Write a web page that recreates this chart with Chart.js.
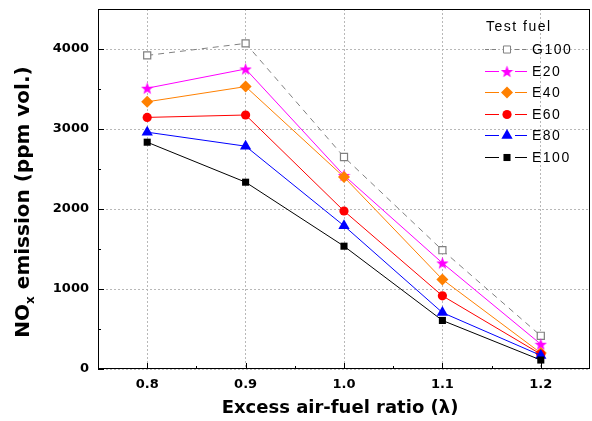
<!DOCTYPE html>
<html>
<head>
<meta charset="utf-8">
<script src="https://cdn.jsdelivr.net/npm/chart.js@4"></script>
<style>
  html, body { margin: 0; padding: 0; background: #fff; }
  #wrap { width: 592px; height: 421px; }
</style>
</head>
<body>
<div id="wrap"><canvas id="noxChart"></canvas></div>
<script>
// excess air-fuel ratio on x, NOx (ppm vol.) on y
const lambda = [0.8, 0.9, 1.0, 1.1, 1.2];
const fuels = ['G100', 'E20', 'E40', 'E60', 'E80', 'E100'];
const g100 = [3920, 4070, 2650, 1485, 415];
const e20 = [3510, 3750, 2420, 1325, 310];
const e40 = [3340, 3530, 2400, 1120, 200];
const e60 = [3145, 3175, 1975, 915, 185];
const e80 = [2960, 2785, 1790, 705, 170];
const e100 = [2835, 2335, 1535, 607, 112];
const yTicks = [0, 1000, 2000, 3000, 4000];
const xTicks = [0.8, 0.9, 1.0, 1.1, 1.2];

function makeStar(color, size) {
  const c = document.createElement('canvas');
  c.width = c.height = size;
  const g = c.getContext('2d');
  const r = size / 2, ri = r * 0.42;
  g.beginPath();
  for (let i = 0; i < 10; i++) {
    const a = -Math.PI / 2 + i * Math.PI / 5;
    const rr = i % 2 ? ri : r;
    g.lineTo(r + rr * Math.cos(a), r + 0.6 + rr * Math.sin(a));
  }
  g.closePath();
  g.fillStyle = color;
  g.fill();
  return c;
}

const series = [g100, e20, e40, e60, e80, e100];
const colors = ['#808080', '#ff00ff', '#ff8000', '#ff0000', '#0000ff', '#000000'];
const styles = ['rect', makeStar('#ff00ff', 13), 'rectRot', 'circle', 'triangle', 'rect'];
const radii = [5, 6.5, 6, 4.6, 6.5, 5];

const datasets = fuels.map((name, i) => ({
  label: name,
  data: lambda.map((l, j) => ({ x: l, y: series[i][j] })),
  borderColor: colors[i],
  borderWidth: 1,
  borderDash: i === 0 ? [6, 5] : [],
  pointStyle: styles[i],
  pointRadius: radii[i],
  pointHoverRadius: radii[i],
  pointBackgroundColor: i === 0 ? '#ffffff' : colors[i],
  pointBorderColor: colors[i],
  pointBorderWidth: i === 0 ? 1.2 : 0,
  tension: 0,
  order: fuels.length - i
}));

const tickFont = { family: 'DejaVu Sans', weight: 'bold', size: 13 };

function noPad(s) {
  s.paddingLeft = s.paddingRight = s.paddingTop = s.paddingBottom = 0;
}

const decor = {
  id: 'decor',
  afterDraw(chart) {
    const { ctx, chartArea: a, scales: { x, y } } = chart;
    ctx.save();
    ctx.strokeStyle = '#000';
    ctx.lineWidth = 1;
    ctx.strokeRect(a.left + 0.5, a.top + 0.5, a.right - a.left - 1, a.bottom - a.top - 1);

    // inward ticks, major and minor
    ctx.beginPath();
    yTicks.forEach(v => {
      const p = Math.round(y.getPixelForValue(v)) + 0.5;
      ctx.moveTo(a.left, p); ctx.lineTo(a.left + 6, p);
      const pm = Math.round(y.getPixelForValue(v + 500)) + 0.5;
      ctx.moveTo(a.left, pm); ctx.lineTo(a.left + 3, pm);
    });
    xTicks.forEach(v => {
      const p = Math.round(x.getPixelForValue(v)) + 0.5;
      ctx.moveTo(p, a.bottom); ctx.lineTo(p, a.bottom - 6);
      if (v < 1.2) {
        const pm = Math.round(x.getPixelForValue(v + 0.05)) + 0.5;
        ctx.moveTo(pm, a.bottom); ctx.lineTo(pm, a.bottom - 3);
      }
    });
    ctx.stroke();

    // axis titles
    ctx.fillStyle = '#000';
    ctx.font = 'bold 18px "DejaVu Sans"';
    ctx.textAlign = 'center';
    ctx.textBaseline = 'middle';
    ctx.fillText('Excess air-fuel ratio (λ)', (a.left + a.right) / 2 - 4, 408);

    ctx.translate(24, 202);
    ctx.rotate(-Math.PI / 2);
    const big = 'bold 20px "DejaVu Sans"', small = 'bold 12px "DejaVu Sans"';
    ctx.font = big;
    const w1 = ctx.measureText('NO').width;
    const w3 = ctx.measureText(' emission (ppm vol.)').width;
    ctx.font = small;
    const w2 = ctx.measureText('x').width;
    let sx = -(w1 + w2 + w3) / 2;
    ctx.textAlign = 'left';
    ctx.font = big;
    ctx.fillText('NO', sx, 0);
    ctx.font = small;
    ctx.fillText('x', sx + w1, 7);
    ctx.font = big;
    ctx.fillText(' emission (ppm vol.)', sx + w1 + w2, 0);
    ctx.restore();

    // legend
    ctx.save();
    const lx = a.right - 105, mx = a.right - 83, tx = a.right - 58;
    ctx.font = '14px "Liberation Sans"';
    ctx.letterSpacing = '1.5px';
    ctx.fillStyle = '#000';
    ctx.textBaseline = 'middle';
    ctx.fillText('Test fuel', lx + 1, 27);
    datasets.forEach((ds, i) => {
      const ly = Math.round(49 + i * 21.5) + 0.5;
      ctx.strokeStyle = ds.borderColor;
      ctx.lineWidth = 1;
      ctx.setLineDash(i === 0 ? [4, 3] : []);
      ctx.beginPath();
      ctx.moveTo(lx, ly); ctx.lineTo(mx - 8, ly);
      ctx.moveTo(mx + 8, ly); ctx.lineTo(mx + 20, ly);
      ctx.stroke();
      ctx.setLineDash([]);
      ctx.fillStyle = ds.pointBackgroundColor;
      ctx.strokeStyle = ds.pointBorderColor;
      Chart.helpers.drawPoint(ctx, {
        pointStyle: ds.pointStyle, radius: ds.pointRadius, rotation: 0, borderWidth: ds.pointBorderWidth
      }, mx, ly);
      ctx.fillStyle = '#000';
      ctx.fillText(ds.label, tx, ly + 1);
    });
    ctx.restore();
  }
};

new Chart(document.getElementById('noxChart'), {
  type: 'line',
  data: { datasets },
  options: {
    responsive: true,
    maintainAspectRatio: false,
    animation: false,
    layout: { autoPadding: false, padding: { top: 9, right: 2, left: 0, bottom: 0 } },
    plugins: { legend: { display: false }, tooltip: { enabled: false } },
    scales: {
      x: {
        type: 'linear',
        min: 0.75,
        max: 1.25,
        afterBuildTicks: s => { s.ticks = xTicks.map(v => ({ value: v })); },
        afterFit: s => { s.height = 52; noPad(s); },
        grid: { color: '#b8b8b8', drawTicks: false },
        border: { display: false, dash: [2, 2] },
        ticks: { font: tickFont, color: '#000', padding: 8, maxRotation: 0, callback: v => v.toFixed(1) }
      },
      y: {
        min: 0,
        max: 4500,
        afterBuildTicks: s => { s.ticks = yTicks.map(v => ({ value: v })); },
        afterFit: s => { s.width = 98; noPad(s); },
        grid: { color: '#b8b8b8', drawTicks: false },
        border: { display: false, dash: [2, 2] },
        ticks: { font: tickFont, color: '#000', padding: 9, callback: v => String(v) }
      }
    }
  },
  plugins: [decor]
});
</script>
</body>
</html>
